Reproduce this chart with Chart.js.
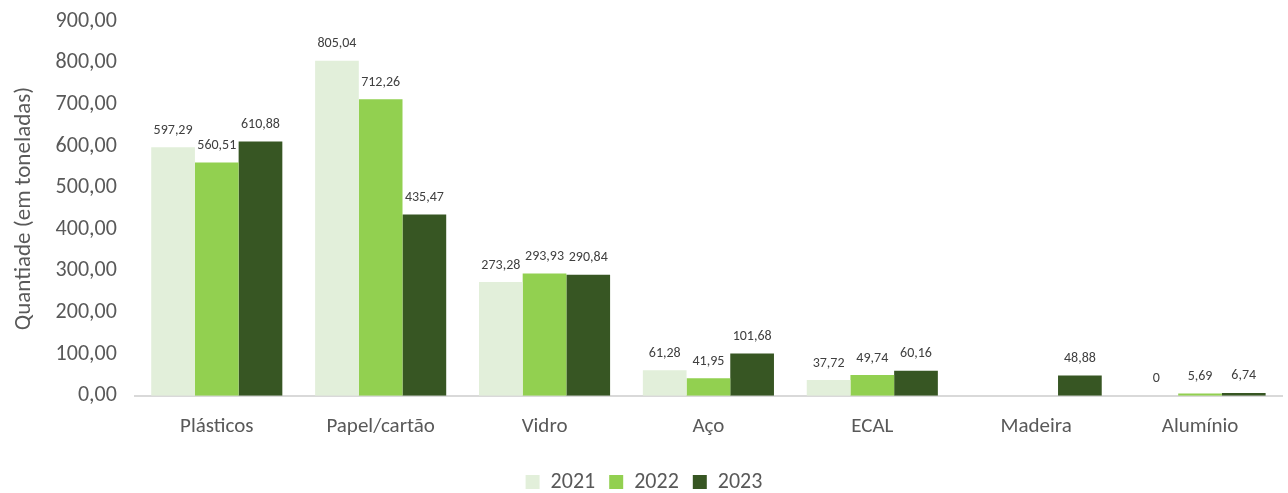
<!DOCTYPE html>
<html>
<head>
<meta charset="utf-8">
<script src="https://cdn.jsdelivr.net/npm/chart.js@4"></script>
<style>
  html, body { margin: 0; padding: 0; background: #fff; }
  #clip { width: 1288px; height: 493px; overflow: hidden; }
  #wrap { width: 1288px; height: 513px; margin-top: -10px; position: relative; }
</style>
</head>
<body>
<div id="clip"><div id="wrap"><canvas id="chart"></canvas></div></div>
<script>
const categories = ['Plásticos', 'Papel/cartão', 'Vidro', 'Aço', 'ECAL', 'Madeira', 'Alumínio'];
const years = ['2021', '2022', '2023'];
const values2021 = [597.29, 805.04, 273.28, 61.28, 37.72, null, 0];
const values2022 = [560.51, 712.26, 293.93, 41.95, 49.74, null, 5.69];
const values2023 = [610.88, 435.47, 290.84, 101.68, 60.16, 48.88, 6.74];
const yTicks = [0, 100, 200, 300, 400, 500, 600, 700, 800, 900];

const colors = ['#E2EFDA', '#92D050', '#375623'];
const FONT = 'Calibri, Carlito, Lato, sans-serif';

const fmt = (v) => v.toFixed(2).replace('.', ',');
const fmtLabel = (v) => v === 0 ? '0' : fmt(v);

// data labels above each bar
const barLabels = {
  id: 'barLabels',
  afterDatasetsDraw(chart) {
    const ctx = chart.ctx;
    ctx.save();
    ctx.font = '14px ' + FONT;
    ctx.fillStyle = '#404040';
    ctx.textAlign = 'center';
    ctx.textBaseline = 'bottom';
    chart.data.datasets.forEach((ds, i) => {
      chart.getDatasetMeta(i).data.forEach((bar, j) => {
        const v = ds.data[j];
        if (v == null) return;
        ctx.fillText(fmtLabel(v), bar.x, bar.y - 10);
      });
    });
    ctx.restore();
  }
};

new Chart(document.getElementById('chart'), {
  type: 'bar',
  data: {
    labels: categories,
    datasets: [
      { label: years[0], data: values2021, backgroundColor: colors[0] },
      { label: years[1], data: values2022, backgroundColor: colors[1] },
      { label: years[2], data: values2023, backgroundColor: colors[2] }
    ]
  },
  options: {
    responsive: true,
    maintainAspectRatio: false,
    animation: false,
    layout: { padding: { top: -12, right: 6, left: 6, bottom: 0 } },
    datasets: { bar: { categoryPercentage: 0.8, barPercentage: 1.0 } },
    plugins: {
      legend: {
        position: 'bottom',
        labels: {
          font: { family: FONT, size: 22 },
          color: '#595959',
          boxWidth: 14,
          boxHeight: 14,
          padding: 14
        }
      },
      tooltip: { enabled: false }
    },
    scales: {
      x: {
        grid: { display: false, drawTicks: false },
        border: { color: '#D9D9D9', width: 2 },
        ticks: { font: { family: FONT, size: 21 }, color: '#595959', padding: 18 }
      },
      y: {
        min: 0,
        max: 900,
        afterBuildTicks: (axis) => { axis.ticks = yTicks.map(v => ({ value: v })); },
        grid: { display: false, drawTicks: false },
        border: { display: false },
        ticks: { font: { family: FONT, size: 22 }, color: '#595959', padding: 18, callback: (v) => fmt(v) },
        title: {
          display: true,
          text: 'Quantiade (em toneladas)',
          font: { family: FONT, size: 23 },
          color: '#595959',
          padding: { bottom: 0 }
        }
      }
    }
  },
  plugins: [barLabels]
});
</script>
</body>
</html>
